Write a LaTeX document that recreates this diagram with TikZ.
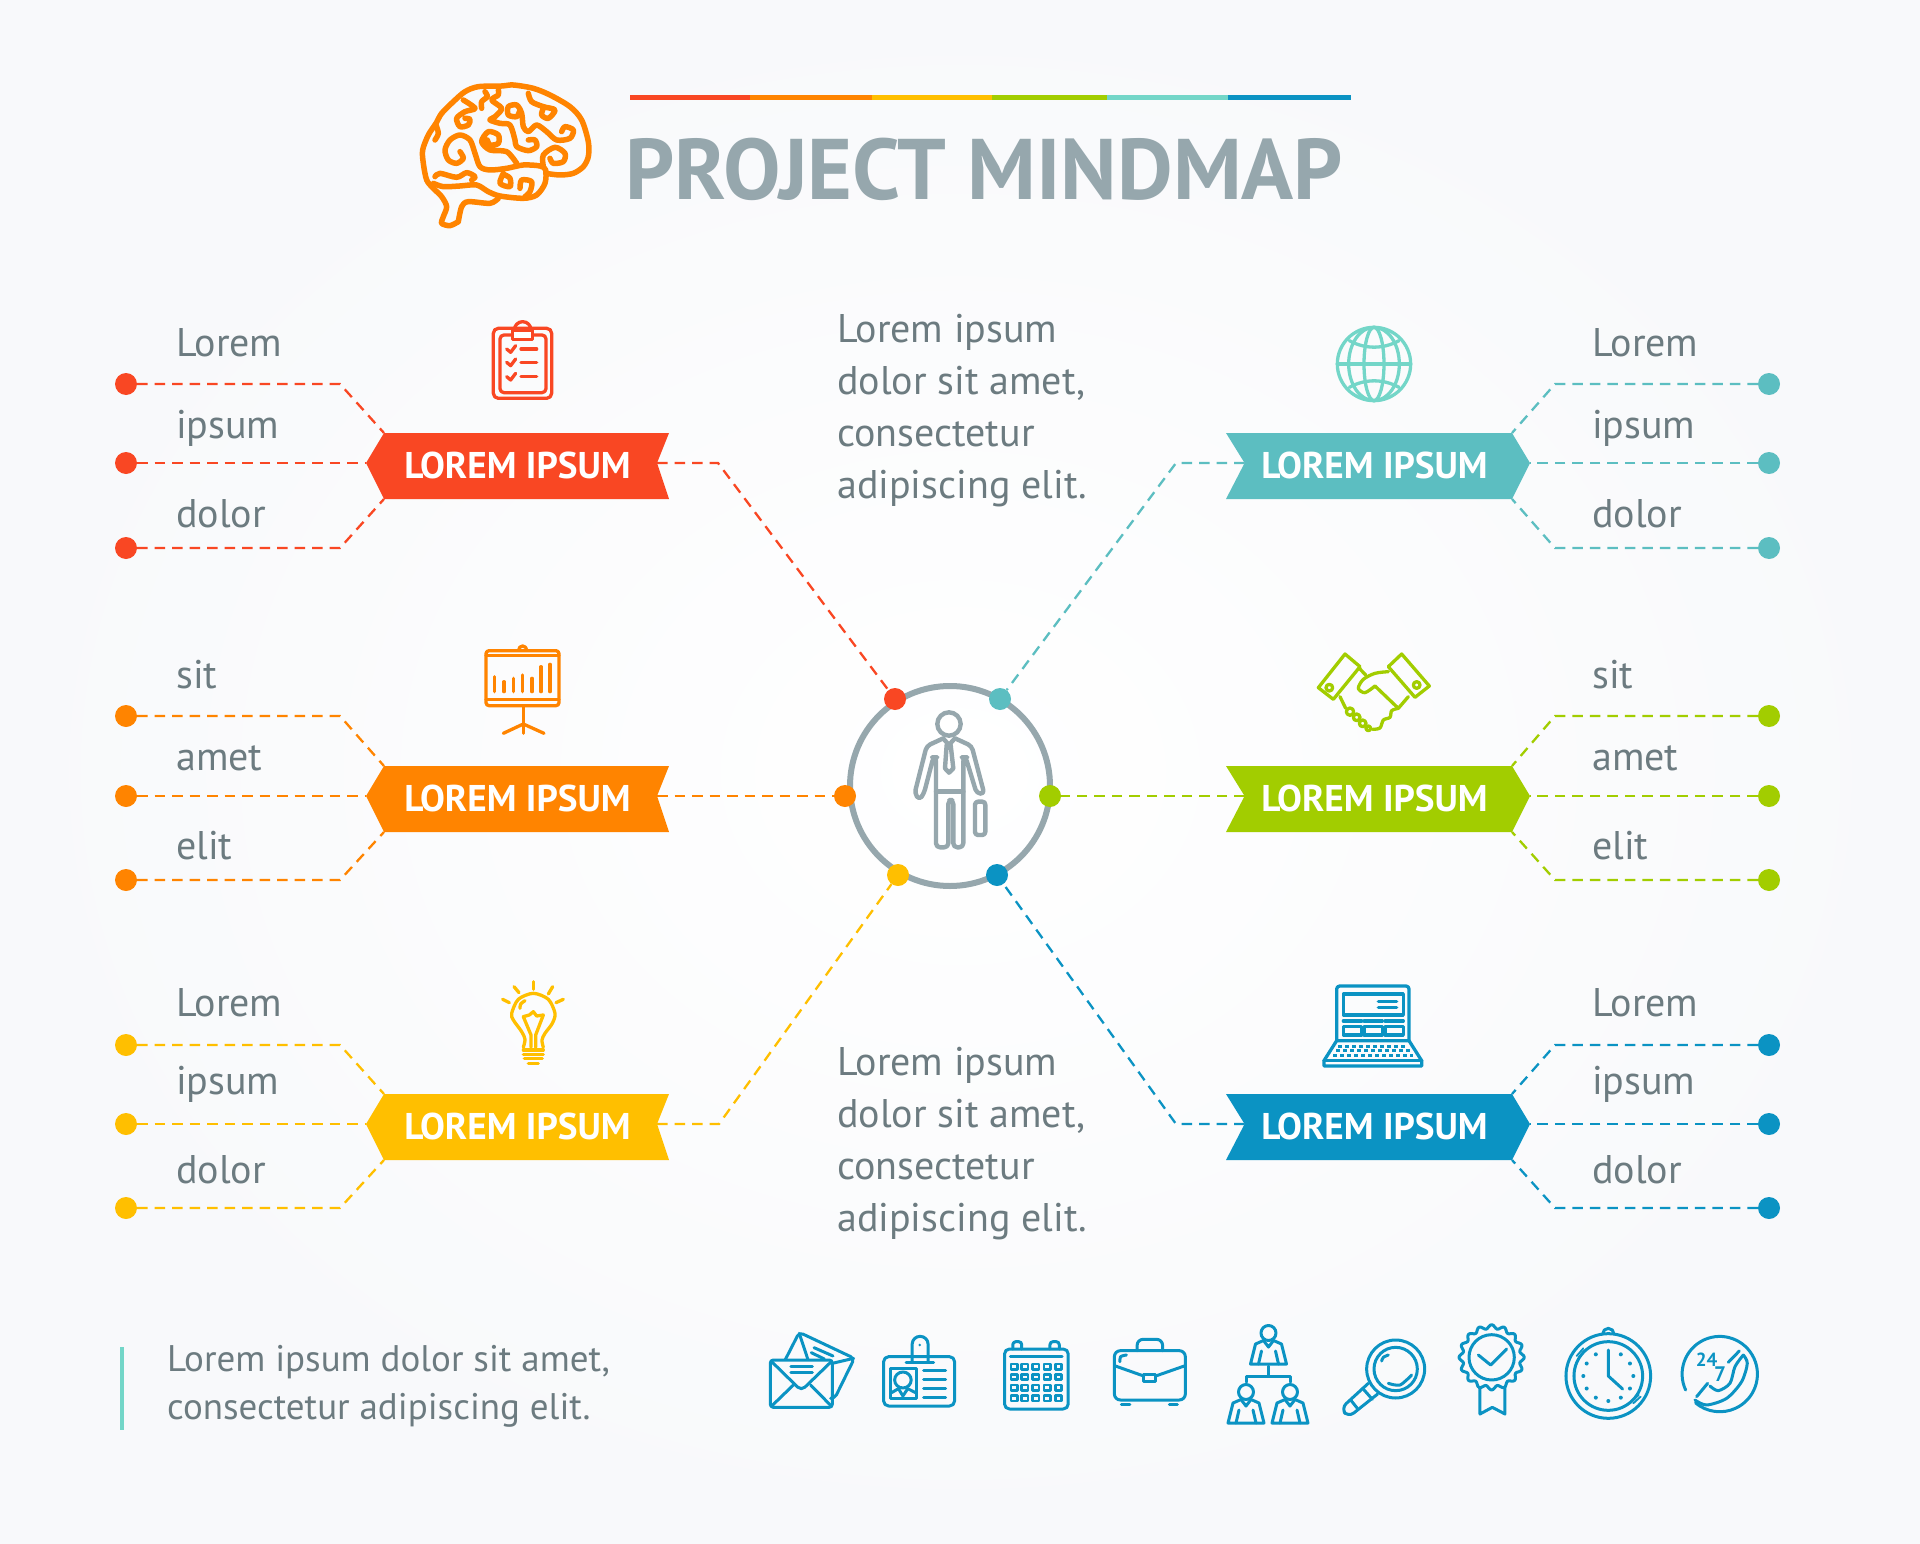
\documentclass[tikz,border=0pt]{standalone}
\usepackage{fontspec}
\setmainfont{PT Sans}
\definecolor{cred}{HTML}{F94723}
\definecolor{corange}{HTML}{FF8400}
\definecolor{cyellow}{HTML}{FFBF00}
\definecolor{cgreen}{HTML}{A2CD00}
\definecolor{cteal}{HTML}{5CBEC1}
\definecolor{cblue}{HTML}{0B93C3}
\definecolor{cmint}{HTML}{73D6C8}
\definecolor{cgrey}{HTML}{96A7AD}
\definecolor{ctext}{HTML}{6C7B80}
\definecolor{cback}{HTML}{F8F9FB}
\tikzstyle{dashline} = [line width=2.3pt,dash pattern=on 10.5pt off 7pt]
\tikzstyle{dot} = [circle,fill,inner sep=0pt,minimum size=22pt]
\tikzstyle{ribbontext} = [inner sep=0pt,text=white,font=\fontsize{37.2}{44}\selectfont\bfseries]
\tikzstyle{lbl} = [anchor=base west,inner sep=0pt,text=ctext,font=\fontsize{40}{46}\selectfont]
\tikzstyle{para} = [anchor=north west,inner sep=0pt,align=left,text=ctext,font=\fontsize{40}{52}\selectfont]
\tikzstyle{icon} = [line width=3.3pt,line cap=round,line join=round]
\tikzstyle{zoomed} = [x=0.3333pt,y=-0.3333pt]
\tikzstyle{zoomedb} = [x=0.3444pt,y=-0.3333pt]
\newcommand{\ribbonleft}[3]{
    \begin{scope}[shift={(517.5,#3)}]
    \fill[#2] (-151.5,-3) -- (-133.5,-33) -- (151.5,-33) -- (139.5,-3) -- (151.5,33) -- (-133.5,33) -- cycle;
    \node (#1) [ribbontext] at (0,-1) {LOREM IPSUM};
    \coordinate (#1-tip) at (-151.5,-3);
    \coordinate (#1-top) at (-133.5,-33);
    \coordinate (#1-bot) at (-133.5,33);
    \coordinate (#1-notch) at (139.5,-3);
    \end{scope}
}
\newcommand{\ribbonright}[3]{
    \begin{scope}[shift={(1374.6,#3)}]
    \fill[#2] (-148.6,-33) -- (-130,-3) -- (-148.6,33) -- (137.4,33) -- (155.4,-3) -- (137.4,-33) -- cycle;
    \node (#1) [ribbontext] at (0,-1) {LOREM IPSUM};
    \coordinate (#1-tip) at (155.4,-3);
    \coordinate (#1-top) at (137.4,-33);
    \coordinate (#1-bot) at (137.4,33);
    \coordinate (#1-notch) at (-130,-3);
    \end{scope}
}
\newcommand{\branches}[7]{
    % name, colour, dot x, bend x, three y
    \node (#1a) [dot,#2] at (#3,#5) {};
    \node (#1b) [dot,#2] at (#3,#6) {};
    \node (#1c) [dot,#2] at (#3,#7) {};
    \coordinate (#1ka) at (#4,#5);
    \coordinate (#1kc) at (#4,#7);
    \draw[dashline,#2] (#1a) -- (#1ka) -- (#1-top);
    \draw[dashline,#2] (#1b) -- (#1-tip);
    \draw[dashline,#2] (#1c) -- (#1kc) -- (#1-bot);
}
\newcommand{\threelabels}[8]{
    \node (#1la) [lbl] at (#2,#3) {#6};
    \node (#1lb) [lbl] at (#2,#4) {#7};
    \node (#1lc) [lbl] at (#2,#5) {#8};
}
\newcommand{\brainicon}{
    \begin{scope}[shift={(400,60)},zoomed,line width=5.5pt,line cap=round,line join=round,corange]
    \draw plot[smooth] coordinates {(175,485) (150,497) (125,490) (130,470) (140,440) (125,410) (100,385) (80,360) (70,310) (68,270) (85,225) (108,190) (125,160) (160,125) (195,95) (235,80) (305,78) (340,75) (400,85) (450,105) (510,140) (545,180) (565,245) (565,290) (550,320) (520,340) (480,345) (437,340)};
    \draw plot[smooth] coordinates {(175,485) (185,440) (205,425) (270,430) (295,415)};
    \draw plot[smooth] coordinates {(100,370) (130,380) (180,378) (230,375) (265,395) (300,408) (370,415) (410,405) (435,370) (437,330) (420,318) (370,315) (320,325) (270,330) (240,320) (225,280) (210,240) (180,225) (150,240) (135,270) (145,300) (170,310) (190,295) (180,275)};
    \draw plot[smooth] coordinates {(105,350) (120,340) (170,352) (200,338) (225,350) (215,360)};
    \draw plot[smooth] coordinates {(108,195) (115,220) (105,240)};
    \draw plot[smooth] coordinates {(190,120) (225,145) (195,155) (170,175) (180,200) (205,195) (210,178) (195,175)};
    \draw plot[smooth] coordinates {(255,95) (262,110) (245,125) (245,145)};
    \draw plot[smooth] coordinates {(295,90) (295,105) (275,120) (305,145) (285,170) (270,180) (300,190) (330,195) (345,240) (350,260) (385,272) (410,260) (405,240) (385,240)};
    \draw plot[smooth] coordinates {(358,155) (350,170) (325,165) (325,140) (350,135) (365,160) (370,200) (385,215) (410,195) (440,215) (470,240) (510,235) (520,210) (495,200) (485,215)};
    \draw plot[smooth] coordinates {(385,100) (395,125) (430,140) (465,150) (445,175) (425,165) (430,145)};
    \draw plot[smooth] coordinates {(350,310) (320,275) (270,270) (245,245) (265,215) (295,225) (295,250) (270,255) (262,240)};
    \draw plot[smooth] coordinates {(430,320) (430,285) (465,262) (495,280) (490,305) (460,310) (450,295)};
    \draw plot[smooth] coordinates {(310,340) (300,370) (330,380) (330,355) (315,345)};
    \draw plot[smooth] coordinates {(360,385) (365,360) (395,365) (390,395) (375,410)};
    \end{scope}
}
\newcommand{\clipboardicon}{
    \begin{scope}[shift={(470,310)},zoomed,icon,cred]
    \draw[rounded corners=5pt] (70,55) rectangle (245,265);
    \draw[rounded corners=4pt] (90,75) rectangle (228,248);
    \fill[white] (128,60) rectangle (187,88);
    \draw (128,60) rectangle (187,88);
    \draw (133,60) arc[start angle=180,end angle=360,radius=25];
    \foreach \ly in {117,157,200}{
        \draw (110,\ly) -- (122,\ly+10) -- (137,\ly-10);
        \draw (153,\ly) -- (200,\ly);
    }
    \end{scope}
}
\newcommand{\boardicon}{
    \begin{scope}[shift={(460,630)},zoomed,icon,corange]
    \draw[rounded corners=3pt] (78,62) rectangle (297,227);
    \draw (78,76) -- (297,76);
    \draw (78,208) -- (297,208);
    \draw (176,60) arc[start angle=180,end angle=360,radius=12];
    \foreach \bx/\by in {104/140,132/155,160/145,188/135,216/145,243/110,270/103}{
        \draw (\bx,185) -- (\bx,\by);
    }
    \draw (190,230) -- (190,310);
    \draw (130,310) -- (190,282) -- (252,310);
    \end{scope}
}
\newcommand{\bulbicon}{
    \begin{scope}[shift={(470,960)},zoomed,icon,cyellow]
    \draw plot[smooth] coordinates {(160,262) (165,238) (155,215) (130,180) (125,160) (145,118) (190,100) (235,118) (255,160) (247,190) (225,220) (216,240) (220,262)};
    \draw (190,65) -- (190,88);
    \draw (132,80) -- (147,98);
    \draw (248,80) -- (235,102);
    \draw (98,118) -- (118,128);
    \draw (280,118) -- (258,128);
    \draw (160,270) -- (220,270);
    \draw (160,283) -- (220,283);
    \draw (163,296) -- (217,296);
    \draw (175,310) -- (205,310);
    \draw (183,262) -- (183,225) -- (160,170) -- (178,165) -- (190,155) -- (200,168) -- (220,165) -- (197,225) -- (197,262);
    \draw plot[smooth] coordinates {(150,145) (152,132) (165,122)};
    \end{scope}
}
\newcommand{\globeicon}{
    \begin{scope}[shift={(1300,310)},zoomed,icon,cmint]
    \draw (222,162) circle (110);
    \draw (222,162) ellipse (30 and 110);
    \draw (222,162) ellipse (76 and 110);
    \draw (112,162) -- (332,162);
    \draw (148,92) .. controls (195,118) and (250,118) .. (297,92);
    \draw (148,232) .. controls (195,206) and (250,206) .. (297,232);
    \end{scope}
}
\newcommand{\shakeicon}{
    \begin{scope}[shift={(1300,640)},zoomed,icon,cgreen]
    \draw (135,42) -- (180,80) -- (100,178) -- (55,143) -- cycle;
    \draw (305,42) -- (388,138) -- (345,172) -- (265,80) -- cycle;
    \draw (88,143) circle (10);
    \draw (350,135) circle (10);
    \draw (178,85) -- (197,105);
    \draw plot[smooth] coordinates {(265,95) (225,100) (190,118) (175,145) (195,158) (225,138)};
    \draw (225,138) -- (295,205);
    \draw plot[smooth] coordinates {(295,205) (275,212) (270,232) (250,240) (240,264) (218,268)};
    \draw (120,170) -- (137,205);
    \draw (295,205) -- (325,170);
    \draw (150,215) circle (11);
    \draw (170,232) circle (10);
    \draw (188,250) circle (10);
    \draw (205,265) circle (7);
    \end{scope}
}
\newcommand{\laptopicon}{
    \begin{scope}[shift={(1300,970)},zoomed,icon,cblue]
    \draw[rounded corners=3pt] (110,212) -- (110,48) -- (327,48) -- (327,212);
    \draw (130,72) rectangle (310,135);
    \draw (235,95) -- (290,95);
    \draw (235,113) -- (290,113);
    \foreach \kx in {130,192,255}{
        \draw (\kx,153) -- (\kx+55,153);
        \draw (\kx,170) rectangle (\kx+55,195);
    }
    \draw (110,212) -- (327,212) -- (365,272) -- (365,288) -- (72,288) -- (72,272) -- cycle;
    \draw (72,272) -- (365,272);
    \draw[line width=3pt,line cap=butt,dash pattern=on 3.5pt off 3.5pt] (115,228) -- (322,228);
    \draw[line width=3pt,line cap=butt,dash pattern=on 3.5pt off 3.5pt] (108,242) -- (330,242);
    \draw[line width=3pt,line cap=butt,dash pattern=on 3.5pt off 3.5pt] (100,256) -- (338,256);
    \end{scope}
}
\newcommand{\personicon}{
    \begin{scope}[shift={(800,650)},zoomed,line width=4.4pt,line cap=round,line join=round,cgrey]
    \draw (447,222) circle (35);
    \draw[rounded corners=4pt] (430,265) -- (380,288) -- (344,430) -- (358,450) -- (372,430) -- (400,322) -- (408,322) -- (408,592) -- (445,592) -- (445,450) -- (460,450) -- (460,592) -- (490,592) -- (490,322) -- (497,322) -- (530,430) -- (553,432) -- (515,288) -- (465,265);
    \draw (408,425) -- (490,425);
    \draw (432,268) -- (447,285) -- (462,268);
    \draw (440,285) -- (435,355) -- (447,368) -- (460,355) -- (452,285);
    \draw[rounded corners=3pt] (525,455) rectangle (556,555);
    \end{scope}
}
\newcommand{\mailicon}{
    \begin{scope}[shift={(740,1300)},zoomedb,icon,cblue,line width=3pt]
    \draw[rounded corners=3pt] (88,180) rectangle (268,322);
    \draw[rounded corners=5pt] (92,185) -- (178,272) -- (265,185);
    \draw (92,318) -- (155,255);
    \draw (265,318) -- (205,255);
    \draw (148,200) -- (210,200);
    \draw (148,218) -- (210,218);
    \draw[rounded corners=4pt] (132,178) -- (172,97) -- (332,175) -- (275,295) -- (268,295);
    \draw (172,100) -- (197,178);
    \draw (268,190) -- (330,175);
    \draw (215,143) -- (270,168);
    \draw (207,158) -- (245,177);
    \end{scope}
}
\newcommand{\badgeicon}{
    \begin{scope}[shift={(740,1300)},zoomedb,icon,cblue,line width=3pt]
    \draw[rounded corners=5pt] (417,170) rectangle (623,318);
    \draw (500,185) -- (500,132) arc[start angle=180,end angle=360,radius=23] -- (546,185);
    \draw (482,188) -- (562,188);
    \fill (522,135) circle (4);
    \draw (437,205) rectangle (512,296);
    \draw (473,240) circle (24);
    \draw (440,278) -- (460,266) -- (473,288) -- (487,266) -- (510,278);
    \foreach \ly in {210,238,265,292}{
        \draw (533,\ly) -- (597,\ly);
    }
    \end{scope}
}
\newcommand{\calendaricon}{
    \begin{scope}[shift={(740,1300)},zoomedb,icon,cblue,line width=3pt]
    \draw[rounded corners=5pt] (768,147) rectangle (953,327);
    \draw[rounded corners=3pt] (792,147) -- (792,125) -- (818,125) -- (818,147);
    \draw[rounded corners=3pt] (900,147) -- (900,125) -- (927,125) -- (927,147);
    \draw (785,170) -- (935,170);
    \foreach \gx in {796,827,859,892,925}{
        \foreach \gy in {200,231,263,295}{
            \draw[line width=2.6pt] (\gx-9,\gy-8) rectangle (\gx+9,\gy+8);
        }
    }
    \end{scope}
}
\newcommand{\caseicon}{
    \begin{scope}[shift={(740,1300)},zoomedb,icon,cblue,line width=3pt]
    \draw[rounded corners=6pt] (1087,152) rectangle (1293,300);
    \draw[rounded corners=6pt] (1153,152) -- (1153,118) -- (1227,118) -- (1227,152);
    \draw (1090,198) -- (1172,228);
    \draw (1207,228) -- (1290,198);
    \draw (1172,222) rectangle (1207,245);
    \draw plot[smooth] coordinates {(1103,185) (1105,170) (1122,165)};
    \draw (1107,312) -- (1132,312);
    \draw (1247,312) -- (1270,312);
    \end{scope}
}
\newcommand{\orgman}[1]{
    \begin{scope}[shift={(#1)},x=1pt,y=-1pt,line width=3pt,line cap=round,line join=round,cblue]
    \draw (0,0) circle (7.5);
    \draw (-18,31) -- (-13,11) -- (-5,7.5) -- (0,14) -- (5,7.5) -- (13,11) -- (18,31) -- cycle;
    \draw (-10,31) -- (-7,18);
    \draw (10,31) -- (7,18);
    \end{scope}
}
\newcommand{\orgicon}{
    \orgman{1268.5,1333}
    \orgman{1246,1392}
    \orgman{1290,1392}
    \draw[line width=3pt,line cap=round,line join=round,cblue] (1246,1382) -- (1246,1376) -- (1290,1376) -- (1290,1382);
    \draw[line width=3pt,line cap=round,cblue] (1268,1366) -- (1268,1376);
}
\newcommand{\lensicon}{
    \begin{scope}[shift={(1280,1300)},zoomed,icon,cblue,line width=3pt]
    \draw (347,207) circle (87);
    \draw (347,207) circle (65);
    \draw plot[smooth] coordinates {(305,183) (310,172) (325,165)};
    \draw plot[smooth] coordinates {(325,250) (360,255) (395,225)};
    \draw[rounded corners=7pt] (265,250) -- (183,325) -- (205,352) -- (293,282);
    \draw (248,265) -- (277,298);
    \draw (212,300) -- (232,325);
    \end{scope}
}
\newcommand{\medalicon}{
    \begin{scope}[shift={(1280,1300)},zoomed,icon,cblue,line width=3pt]
    \draw (635,172) circle (68);
    \draw plot[domain=0:360,samples=129,smooth] ({635+(92+6*cos(16*\x))*cos(\x)},{172+(92+6*cos(16*\x))*sin(\x)}) -- cycle;
    \draw (595,165) -- (632,195) -- (680,147);
    \draw (600,262) -- (600,342) -- (637,322) -- (675,342) -- (675,262);
    \end{scope}
}
\newcommand{\clockicon}{
    \begin{scope}[shift={(1280,1300)},zoomed,icon,cblue,line width=3pt]
    \draw (985,228) circle (127);
    \draw (985,228) circle (103);
    \draw (968,102) arc[start angle=180,end angle=360,radius=17];
    \draw (985,150) -- (985,228) -- (1028,267);
    \foreach \a in {0,30,...,240,300,330}{
        \fill ({985+75*cos(\a)},{228+75*sin(\a)}) circle (6);
    }
    \draw[line width=1.8pt] (890,168) -- (910,145);
    \draw[line width=1.8pt] (896,173) -- (916,150);
    \draw[line width=1.8pt] (1060,310) -- (1082,290);
    \draw[line width=1.8pt] (1054,305) -- (1076,285);
    \end{scope}
}
\newcommand{\phoneicon}{
    \begin{scope}[shift={(1280,1300)},zoomed,icon,cblue,line width=3pt]
    \draw (1217,270) arc[start angle=155,end angle=490,radius=113];
    \draw (1250,290) -- (1283,250);
    \draw plot[smooth] coordinates {(1290,258) (1315,272) (1350,250) (1365,200) (1390,165)};
    \draw plot[smooth] coordinates {(1390,165) (1402,190) (1385,245) (1340,295) (1280,315) (1245,300)};
    \draw (1345,187) -- (1378,153);
    \node (hours) [inner sep=0pt,text=cblue,font=\fontsize{19}{19}\selectfont\bfseries] at (1280,180) {24};
    \node (days) [inner sep=0pt,text=cblue,font=\fontsize{21}{21}\selectfont\bfseries] at (1320,222) {7};
    \end{scope}
}
\begin{document}
\begin{tikzpicture}[x=1pt,y=-1pt]
    \useasboundingbox (0,0) rectangle (1920,1544);
    \shade[inner color=white,outer color=cback] (0,0) rectangle (1920,1544);

    % title
    \brainicon
    \foreach \ca/\cb/\cc in {630/750/cred,750/872/corange,872/992/cyellow,992/1107/cgreen,1107/1228/cmint,1228/1351/cblue}{
        \fill[\cc] (\ca,95) rectangle (\cb,100);
    }
    \node (title) [anchor=base west,inner sep=0pt,text=cgrey,font=\fontsize{86}{90}\selectfont\bfseries] at (625,199) {PROJECT MINDMAP};

    % left ribbons
    \ribbonleft{red}{cred}{466}
    \ribbonleft{orange}{corange}{799}
    \ribbonleft{yellow}{cyellow}{1127}
    \branches{red}{cred}{126}{340}{384}{463}{548}
    \branches{orange}{corange}{126}{340}{716}{796}{880}
    \branches{yellow}{cyellow}{126}{340}{1045}{1124}{1208}
    \threelabels{red}{176}{356}{438}{527}{Lorem}{ipsum}{dolor}
    \threelabels{orange}{176}{688}{770}{859}{sit}{amet}{elit}
    \threelabels{yellow}{176}{1016}{1094}{1183}{Lorem}{ipsum}{dolor}

    % right ribbons
    \ribbonright{teal}{cteal}{466}
    \ribbonright{green}{cgreen}{799}
    \ribbonright{blue}{cblue}{1127}
    \branches{teal}{cteal}{1769}{1555}{384}{463}{548}
    \branches{green}{cgreen}{1769}{1555}{716}{796}{880}
    \branches{blue}{cblue}{1769}{1555}{1045}{1124}{1208}
    \threelabels{teal}{1592}{356}{438}{527}{Lorem}{ipsum}{dolor}
    \threelabels{green}{1592}{688}{770}{859}{sit}{amet}{elit}
    \threelabels{blue}{1592}{1016}{1094}{1183}{Lorem}{ipsum}{dolor}

    % hub
    \node (ring) [circle,draw=cgrey,line width=6pt,inner sep=0pt,minimum size=200pt] at (950,786) {};
    \node (hubred) [dot,cred] at (895,699) {};
    \node (hubteal) [dot,cteal] at (1000,699) {};
    \node (huborange) [dot,corange] at (845,796) {};
    \node (hubgreen) [dot,cgreen] at (1050,796) {};
    \node (hubyellow) [dot,cyellow] at (898,875) {};
    \node (hubblue) [dot,cblue] at (997,875) {};
    \coordinate (redbend) at (718,463);
    \coordinate (yellowbend) at (719,1124);
    \coordinate (tealbend) at (1176,463);
    \coordinate (bluebend) at (1176,1124);
    \draw[dashline,cred] (red-notch) -- (redbend) -- (hubred);
    \draw[dashline,corange] (orange-notch) -- (huborange);
    \draw[dashline,cyellow] (yellow-notch) -- (yellowbend) -- (hubyellow);
    \draw[dashline,cteal] (teal-notch) -- (tealbend) -- (hubteal);
    \draw[dashline,cgreen] (green-notch) -- (hubgreen);
    \draw[dashline,cblue] (blue-notch) -- (bluebend) -- (hubblue);
    \personicon

    % icons
    \clipboardicon
    \boardicon
    \bulbicon
    \globeicon
    \shakeicon
    \laptopicon

    % texts
    \node (uppertext) [para] at (837,313.5) {Lorem ipsum\\dolor sit amet,\\consectetur\\adipiscing elit.};
    \node (lowertext) [para] at (837,1047) {Lorem ipsum\\dolor sit amet,\\consectetur\\adipiscing elit.};
    \fill[cmint] (120,1347) rectangle (124,1430);
    \node (foot) [para,font=\fontsize{37}{48}\selectfont] at (167,1345) {Lorem ipsum dolor sit amet,\\consectetur adipiscing elit.};

    % bottom row
    \mailicon
    \badgeicon
    \calendaricon
    \caseicon
    \orgicon
    \lensicon
    \medalicon
    \clockicon
    \phoneicon
\end{tikzpicture}
\end{document}
